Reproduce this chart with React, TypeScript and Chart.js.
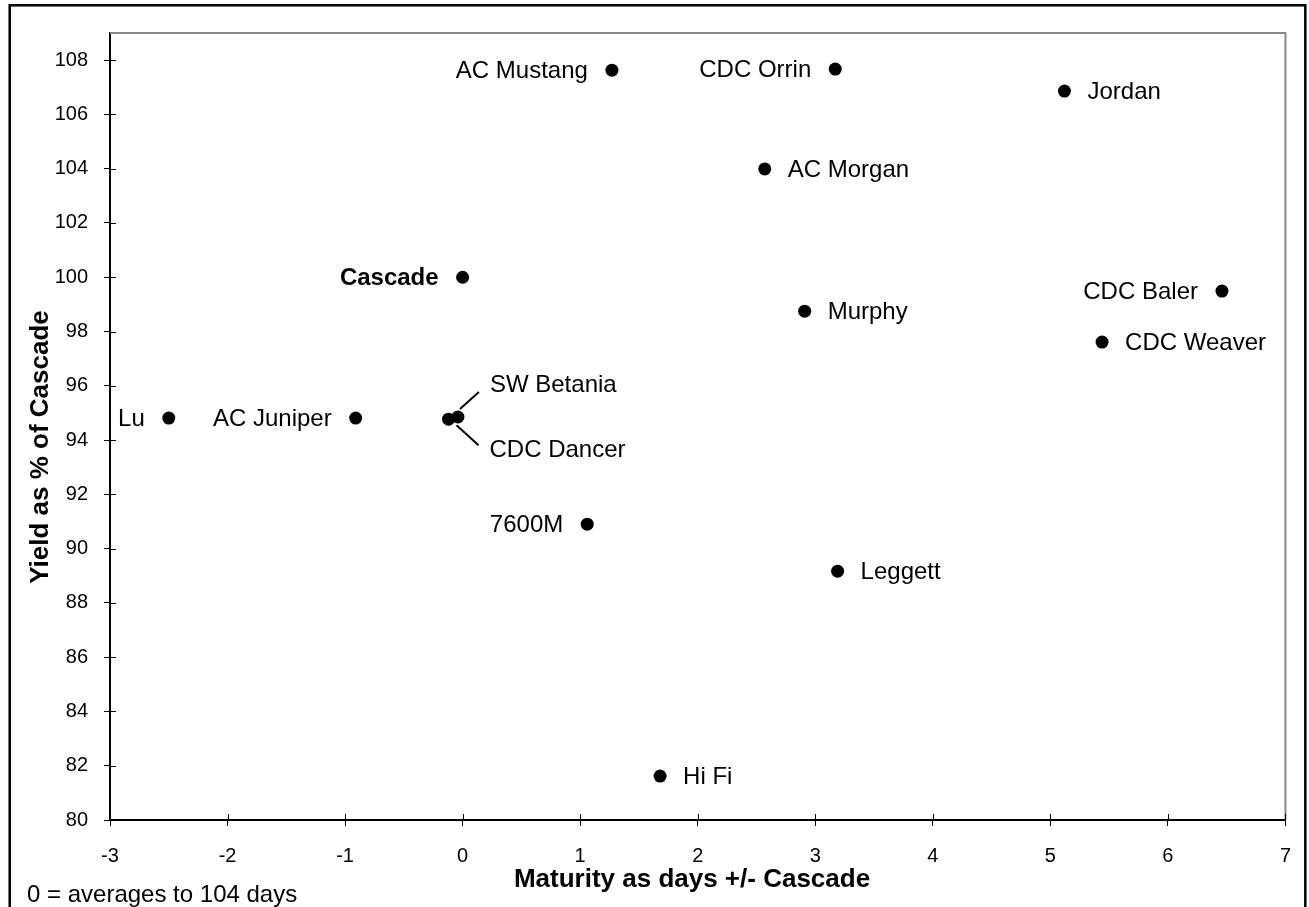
import React, { useEffect, useRef } from "react";
import { Chart, registerables } from "chart.js";

Chart.register(...registerables);

const varieties = [
  "AC Mustang", "CDC Orrin", "Jordan", "AC Morgan", "Cascade", "CDC Baler", "Murphy",
  "CDC Weaver", "Lu", "AC Juniper", "CDC Dancer", "SW Betania", "7600M", "Leggett", "Hi Fi",
];
const maturityDays = [1.27, 3.17, 5.12, 2.57, 0, 6.46, 2.91, 5.44, -2.5, -0.91, -0.12, -0.04, 1.06, 3.19, 1.68];
const yieldPct = [107.63, 107.67, 106.86, 103.99, 100, 99.49, 98.75, 97.61, 94.81, 94.81, 94.77, 94.85, 90.9, 89.17, 81.62];
const xTickValues = [-3, -2, -1, 0, 1, 2, 3, 4, 5, 6, 7];
const yTickValues = [80, 82, 84, 86, 88, 90, 92, 94, 96, 98, 100, 102, 104, 106, 108];
const xAxisTitle = "Maturity as days +/- Cascade";
const yAxisTitle = "Yield as % of Cascade";
const footnote = "0 = averages to 104 days";

const FONT = "'Liberation Sans', Arial, Helvetica, sans-serif";

type Placement = { side: "left" | "right"; bold?: boolean; dx?: number; dy?: number; leader?: [number, number, number, number] };

const placements: Record<string, Placement> = {
  "AC Mustang": { side: "left" },
  "CDC Orrin": { side: "left" },
  "Jordan": { side: "right" },
  "AC Morgan": { side: "right" },
  "Cascade": { side: "left", bold: true },
  "CDC Baler": { side: "left" },
  "Murphy": { side: "right" },
  "CDC Weaver": { side: "right" },
  "Lu": { side: "left" },
  "AC Juniper": { side: "left" },
  "CDC Dancer": { side: "right", dx: 41, dy: 31, leader: [8, 6, 30, 26] },
  "SW Betania": { side: "right", dx: 32, dy: -32, leader: [2, -8, 21, -25] },
  "7600M": { side: "left" },
  "Leggett": { side: "right" },
  "Hi Fi": { side: "right" },
};

const decorPlugin = {
  id: "decor",
  beforeDatasetsDraw(chart: any) {
    const { ctx, chartArea } = chart;
    const { left, right, top, bottom } = chartArea;
    ctx.save();
    // gray top/right plot border
    ctx.strokeStyle = "#888888";
    ctx.lineWidth = 2;
    ctx.beginPath();
    ctx.moveTo(left, top);
    ctx.lineTo(right, top);
    ctx.lineTo(right, bottom);
    ctx.stroke();
    // inner tick marks
    ctx.strokeStyle = "#000";
    ctx.lineWidth = 1;
    const ys = chart.scales.y;
    ys.ticks.forEach((t: any) => {
      const py = Math.round(ys.getPixelForValue(t.value)) + 0.5;
      ctx.beginPath();
      ctx.moveTo(left, py);
      ctx.lineTo(left + 6, py);
      ctx.stroke();
    });
    const xs = chart.scales.x;
    xs.ticks.forEach((t: any) => {
      const px = Math.round(xs.getPixelForValue(t.value)) + 0.5;
      ctx.beginPath();
      ctx.moveTo(px, bottom);
      ctx.lineTo(px, bottom - 6);
      ctx.stroke();
    });
    ctx.restore();
  },
  afterDatasetsDraw(chart: any) {
    const { ctx } = chart;
    const meta = chart.getDatasetMeta(0);
    ctx.save();
    ctx.fillStyle = "#000";
    ctx.strokeStyle = "#000";
    ctx.textBaseline = "middle";
    meta.data.forEach((el: any, i: number) => {
      const name = varieties[i];
      const p = placements[name] || { side: "right" };
      ctx.font = `${p.bold ? "bold " : ""}24px ${FONT}`;
      const x = el.x;
      const y = el.y;
      if (p.leader) {
        ctx.lineWidth = 2;
        ctx.beginPath();
        ctx.moveTo(x + p.leader[0], y + p.leader[1]);
        ctx.lineTo(x + p.leader[2], y + p.leader[3]);
        ctx.stroke();
      }
      if (p.side === "left") {
        ctx.textAlign = "right";
        ctx.fillText(name, x + (p.dx ?? -24), y + (p.dy ?? 1));
      } else {
        ctx.textAlign = "left";
        ctx.fillText(name, x + (p.dx ?? 23), y + (p.dy ?? 1));
      }
    });
    ctx.restore();
  },
  afterDraw(chart: any) {
    const { ctx, width } = chart;
    ctx.save();
    // outer frame
    ctx.strokeStyle = "#000";
    ctx.lineWidth = 2.5;
    ctx.strokeRect(9.7, 5.3, width - 9.7 - 3.7, 960);
    ctx.fillStyle = "#000";
    // x axis title
    ctx.font = `bold 26px ${FONT}`;
    ctx.textAlign = "center";
    ctx.textBaseline = "alphabetic";
    ctx.fillText(xAxisTitle, 692, 887);
    // y axis title
    ctx.save();
    ctx.translate(48, 447);
    ctx.rotate(-Math.PI / 2);
    ctx.fillText(yAxisTitle, 0, 0);
    ctx.restore();
    // footnote
    ctx.font = `24px ${FONT}`;
    ctx.textAlign = "left";
    ctx.fillText(footnote, 27, 902);
    ctx.restore();
  },
};

export default function App() {
  const canvasRef = useRef<HTMLCanvasElement | null>(null);

  useEffect(() => {
    if (!canvasRef.current) return;
    const points = maturityDays.map((m, i) => ({ x: m, y: yieldPct[i] }));
    const chart = new Chart(canvasRef.current, {
      type: "scatter",
      data: {
        datasets: [
          {
            label: "Varieties",
            data: points,
            backgroundColor: "#000",
            borderColor: "#000",
            pointRadius: 6.5,
            pointBorderWidth: 0,
            pointHoverRadius: 6.5,
          },
        ],
      },
      options: {
        responsive: false,
        animation: false,
        devicePixelRatio: 1,
        layout: { padding: { left: 0, top: 33, right: 23, bottom: 0 } },
        plugins: {
          legend: { display: false },
          tooltip: { enabled: false },
        },
        scales: {
          x: {
            type: "linear",
            min: -3,
            max: 7,
            afterBuildTicks: (s: any) => {
              s.ticks = xTickValues.map((v) => ({ value: v }));
            },
            afterFit: (s: any) => {
              s.height = 87;
            },
            grid: { display: true, drawOnChartArea: false, drawTicks: true, tickLength: 6, color: "#000", lineWidth: 1 },
            border: { display: true, color: "#000", width: 2 },
            ticks: { font: { family: FONT, size: 20 }, color: "#000", padding: 18, maxRotation: 0, autoSkip: false },
            title: { display: false },
          },
          y: {
            type: "linear",
            min: 80,
            max: 109,
            afterBuildTicks: (s: any) => {
              s.ticks = yTickValues.map((v) => ({ value: v }));
            },
            afterFit: (s: any) => {
              s.width = 110;
            },
            grid: { display: true, drawOnChartArea: false, drawTicks: true, tickLength: 6, color: "#000", lineWidth: 1 },
            border: { display: true, color: "#000", width: 2 },
            ticks: { font: { family: FONT, size: 20 }, color: "#000", padding: 16, autoSkip: false },
            title: { display: false },
          },
        },
      },
      plugins: [decorPlugin],
    });
    return () => chart.destroy();
  }, []);

  return (
    <div style={{ position: "fixed", left: 0, top: 0, width: 1309, height: 907, background: "#fff" }}>
      <canvas ref={canvasRef} width={1309} height={907} style={{ display: "block" }} />
    </div>
  );
}
